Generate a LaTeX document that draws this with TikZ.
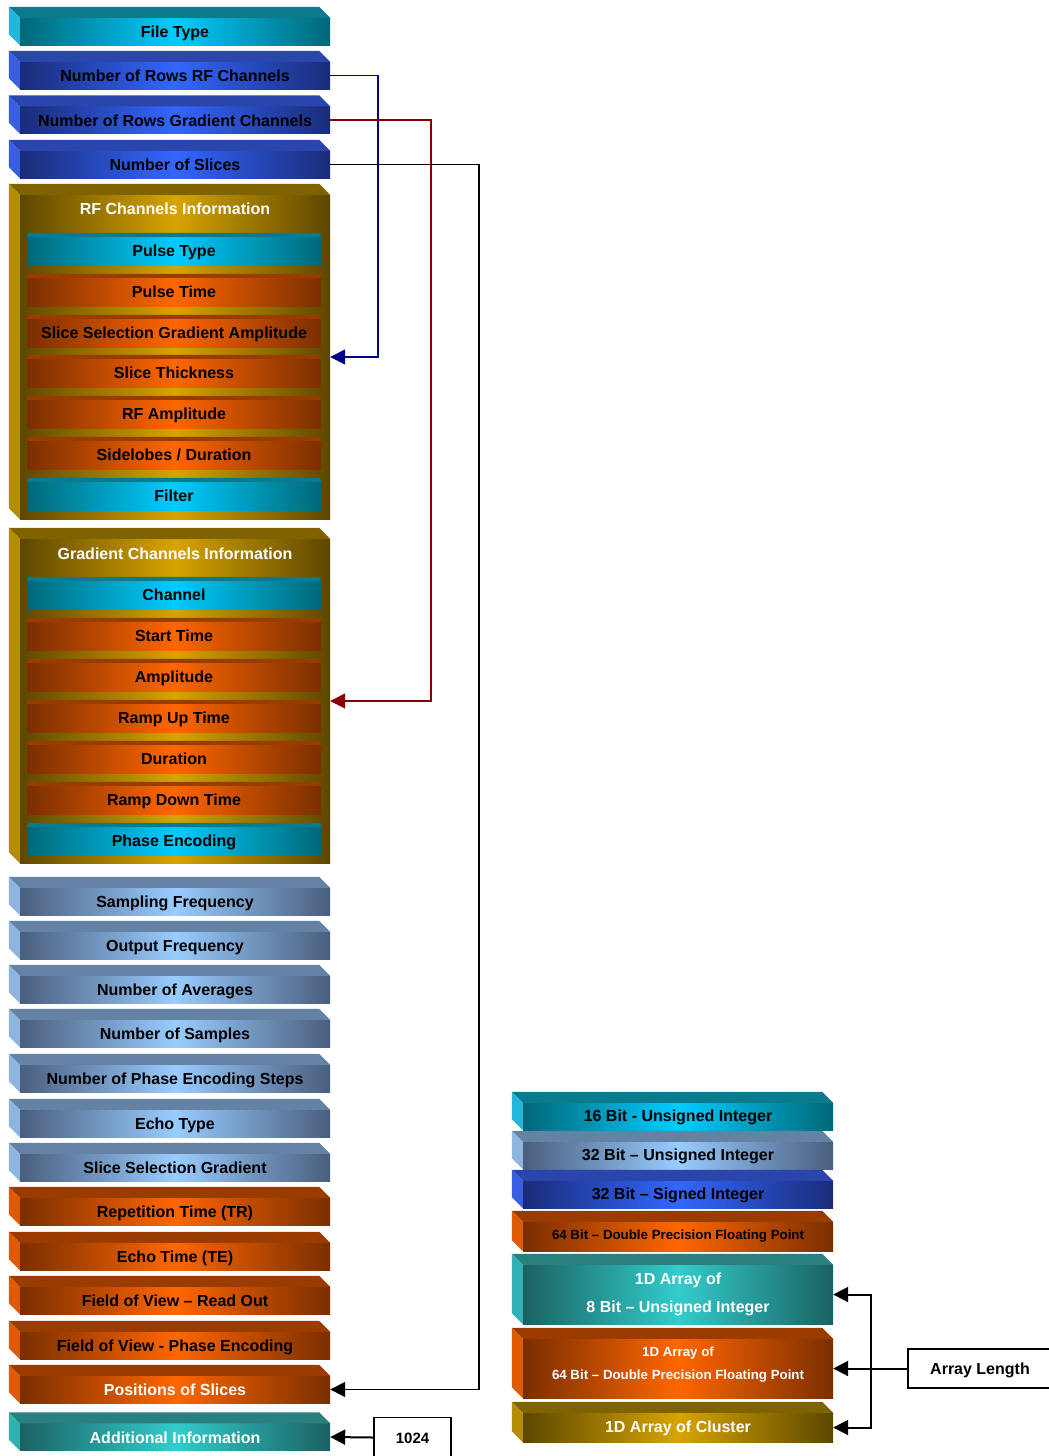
\documentclass[tikz,border=0pt]{standalone}
\usepackage{fontspec}
\setmainfont{Liberation Sans}
\usetikzlibrary{arrows.meta}

% colour schemes: D = dark edge, L = light centre, T = top face, S = side face
\definecolor{cyD}{HTML}{006878}\definecolor{cyL}{HTML}{00CCFF}
\definecolor{cyT}{HTML}{0A7A8C}\definecolor{cyS}{HTML}{22B6DC}
\definecolor{blD}{HTML}{1A2C78}\definecolor{blL}{HTML}{3366FF}
\definecolor{blT}{HTML}{2A46AC}\definecolor{blS}{HTML}{3A5EE0}
\definecolor{stD}{HTML}{4A5E7E}\definecolor{stL}{HTML}{99CCFF}
\definecolor{stT}{HTML}{6482A4}\definecolor{stS}{HTML}{8EB4E0}
\definecolor{goD}{HTML}{5C4700}\definecolor{goL}{HTML}{D8A400}
\definecolor{goT}{HTML}{7F6300}\definecolor{goS}{HTML}{B58D00}
\definecolor{orD}{HTML}{7A2E00}\definecolor{orL}{HTML}{FF6600}
\definecolor{orT}{HTML}{9A3C00}\definecolor{orS}{HTML}{E05A00}
\definecolor{teD}{HTML}{1B6262}\definecolor{teL}{HTML}{33CCCC}
\definecolor{teT}{HTML}{2A7F7F}\definecolor{teS}{HTML}{30B2B2}
\definecolor{navyline}{HTML}{000088}
\definecolor{redline}{HTML}{880000}

\tikzset{
  face/.style={rectangle, inner sep=0pt, text=black,
    font=\bfseries\fontsize{16}{19}\selectfont},
  oneline/.style={text height=12pt, text depth=0pt},
  raised/.style={text height=11pt, text depth=1pt},
  shade3/.style={left color=#1D, right color=#1D, middle color=#1L},
  slab/.style={face, oneline, shade3=#1, minimum width=310pt, minimum height=27pt},
  slabbox/.style={rectangle, inner sep=0pt, shade3=#1, minimum width=310pt},
  inbar/.style={face, raised, shade3=#1, minimum width=294pt, minimum height=28pt},
  cont/.style={rectangle, inner sep=0pt, shade3=go,
    minimum width=310pt, minimum height=324pt},
  ctitle/.style={text=white, oneline, font=\bfseries\fontsize{16}{19}\selectfont},
  smalltext/.style={font=\bfseries\fontsize{13.3}{16}\selectfont,
    text height=9.6pt, text depth=4.6pt},
  wtext/.style={text=white},
  tag/.style={draw, line width=1.8pt, fill=white, inner sep=0pt, text=black,
    font=\bfseries\fontsize{16}{19}\selectfont},
  link/.style={line width=1.5pt, -{Triangle[length=15pt,width=15pt]}},
}

% top and left faces of a 3D slab whose front face is node #1
\newcommand\slabfaces[2]{%
  \fill[#2T] (#1.north west) -- ++(-11,-11) -- ([shift={(-11,-11)}]#1.north east)
    -- (#1.north east) -- cycle;
  \fill[#2S] (#1.north west) -- ++(-11,-11) -- ([shift={(-11,-11)}]#1.south west)
    -- (#1.south west) -- cycle;}
% thin top strip of a flat bar inside a container
\newcommand\barstrip[2]{%
  \fill[#2T] (#1.north west) -- ([shift={(1.5,-4)}]#1.north west)
    -- ([shift={(-1.5,-4)}]#1.north east) -- (#1.north east) -- cycle;}

\begin{document}
\begin{tikzpicture}[x=1pt, y=-1pt]
\useasboundingbox (0,0) rectangle (1049,1456);

% ---------- header slabs ----------
\node[slab=cy] (ftype)  at (175,31.5)  {File Type};             \slabfaces{ftype}{cy}
\node[slab=bl] (rowsrf) at (175,75.5)  {Number of Rows RF Channels}; \slabfaces{rowsrf}{bl}
\node[slab=bl] (rowsgc) at (175,120)   {Number of Rows Gradient Channels}; \slabfaces{rowsgc}{bl}
\node[slab=bl] (nslice) at (175,164.5) {Number of Slices};      \slabfaces{nslice}{bl}

% ---------- RF channels container ----------
\node[cont] (rf) at (175,357) {}; \slabfaces{rf}{go}
\node[ctitle] (rft) at (175,208.5) {RF Channels Information};
\node[inbar=cy] (ptype) at (174,251) {Pulse Type};                       \barstrip{ptype}{cy}
\node[inbar=or] (ptime) at (174,292) {Pulse Time};                       \barstrip{ptime}{or}
\node[inbar=or] (ssga)  at (174,333) {Slice Selection Gradient Amplitude}; \barstrip{ssga}{or}
\node[inbar=or] (sthk)  at (174,373) {Slice Thickness};                  \barstrip{sthk}{or}
\node[inbar=or] (rfamp) at (174,414) {RF Amplitude};                     \barstrip{rfamp}{or}
\node[inbar=or] (sdur)  at (174,455) {Sidelobes / Duration};             \barstrip{sdur}{or}
\node[inbar=cy] (filt)  at (174,496) {Filter};                           \barstrip{filt}{cy}

% ---------- gradient channels container ----------
\node[cont] (gc) at (175,701) {}; \slabfaces{gc}{go}
\node[ctitle] (gct) at (175,553.5) {Gradient Channels Information};
\node[inbar=cy] (chan)  at (174,595) {Channel};        \barstrip{chan}{cy}
\node[inbar=or] (stime) at (174,636) {Start Time};     \barstrip{stime}{or}
\node[inbar=or] (ampl)  at (174,677) {Amplitude};      \barstrip{ampl}{or}
\node[inbar=or] (rup)   at (174,718) {Ramp Up Time};   \barstrip{rup}{or}
\node[inbar=or] (dur)   at (174,759) {Duration};       \barstrip{dur}{or}
\node[inbar=or] (rdown) at (174,800) {Ramp Down Time}; \barstrip{rdown}{or}
\node[inbar=cy] (phenc) at (174,841) {Phase Encoding}; \barstrip{phenc}{cy}

% ---------- acquisition parameters ----------
\node[slab=st] (sfreq) at (175,901.5)  {Sampling Frequency};   \slabfaces{sfreq}{st}
\node[slab=st] (ofreq) at (175,945.5)  {Output Frequency};     \slabfaces{ofreq}{st}
\node[slab=st] (navg)  at (175,989.5)  {Number of Averages};   \slabfaces{navg}{st}
\node[slab=st] (nsmp)  at (175,1033.5) {Number of Samples};    \slabfaces{nsmp}{st}
\node[slab=st] (npes)  at (175,1078.5) {Number of Phase Encoding Steps}; \slabfaces{npes}{st}
\node[slab=st] (etype) at (175,1123.5) {Echo Type};            \slabfaces{etype}{st}
\node[slab=st] (ssg)   at (175,1167.5) {Slice Selection Gradient}; \slabfaces{ssg}{st}
\node[slab=or] (tr)    at (175,1211.5) {Repetition Time (TR)}; \slabfaces{tr}{or}
\node[slab=or] (te)    at (175,1256.5) {Echo Time (TE)};       \slabfaces{te}{or}
\node[slab=or] (fovro) at (175,1300.5) {Field of View – Read Out}; \slabfaces{fovro}{or}
\node[slab=or] (fovpe) at (175,1345.5) {Field of View - Phase Encoding}; \slabfaces{fovpe}{or}
\node[slab=or, wtext] (pos)  at (175,1389.5) {Positions of Slices};    \slabfaces{pos}{or}
\node[slab=te, wtext] (addl) at (175,1437)   {Additional Information}; \slabfaces{addl}{te}

% ---------- data type legend ----------
\node[slab=cy, raised] (u16) at (678,1116.5) {16 Bit - Unsigned Integer}; \slabfaces{u16}{cy}
\node[slab=st, raised] (u32) at (678,1155.5) {32 Bit – Unsigned Integer}; \slabfaces{u32}{st}
\node[slab=bl, raised] (s32) at (678,1194.5) {32 Bit – Signed Integer};   \slabfaces{s32}{bl}
\node[slab=or, smalltext, minimum height=29pt] (d64) at (678,1236.5)
  {64 Bit – Double Precision Floating Point}; \slabfaces{d64}{or}
\node[slabbox=te, minimum height=59pt] (a8) at (678,1294.5) {}; \slabfaces{a8}{te}
\node[text=white, align=center, font=\bfseries\fontsize{16}{28}\selectfont]
  (a8t) at (678,1294.5) {1D Array of\\8 Bit – Unsigned Integer};
\node[slabbox=or, minimum height=59pt] (a64) at (678,1368.5) {}; \slabfaces{a64}{or}
\node[text=white, align=center, font=\bfseries\fontsize{13.3}{23}\selectfont]
  (a64t) at (678,1364.5) {1D Array of\\64 Bit – Double Precision Floating Point};
\node[slab=go, wtext, raised, minimum height=29pt] (acl) at (678,1427.5)
  {1D Array of Cluster}; \slabfaces{acl}{go}

% ---------- size tags ----------
\node[tag, oneline, minimum width=144pt, minimum height=39pt] (alen) at (980,1368.5) {Array Length};
\node[tag, minimum width=77pt, minimum height=40pt, text height=11pt, text depth=0pt,
  font=\bfseries\fontsize{15}{18}\selectfont] (k1024) at (412.5,1437.5) {1024};

% ---------- connectors ----------
\coordinate (j1) at (378,0);
\coordinate (j2) at (431,0);
\coordinate (j3) at (479,0);
\coordinate (j4) at (871,0);
\draw[link, navyline] (rowsrf.east) -- (rowsrf.east -| j1) |- (rf.east);
\draw[link, redline]  (rowsgc.east) -- (rowsgc.east -| j2) |- (gc.east);
\draw[link, black]    (nslice.east) -- (nslice.east -| j3) |- (pos.east);
\draw[link, line width=2pt] (k1024.west) -- (addl.east);
\draw[link, line width=2pt] (alen.west) -- (a64.east);
\draw[link, line width=2pt] (alen.west -| j4) |- (a8.east);
\draw[link, line width=2pt] (alen.west -| j4) |- (acl.east);
\end{tikzpicture}
\end{document}
